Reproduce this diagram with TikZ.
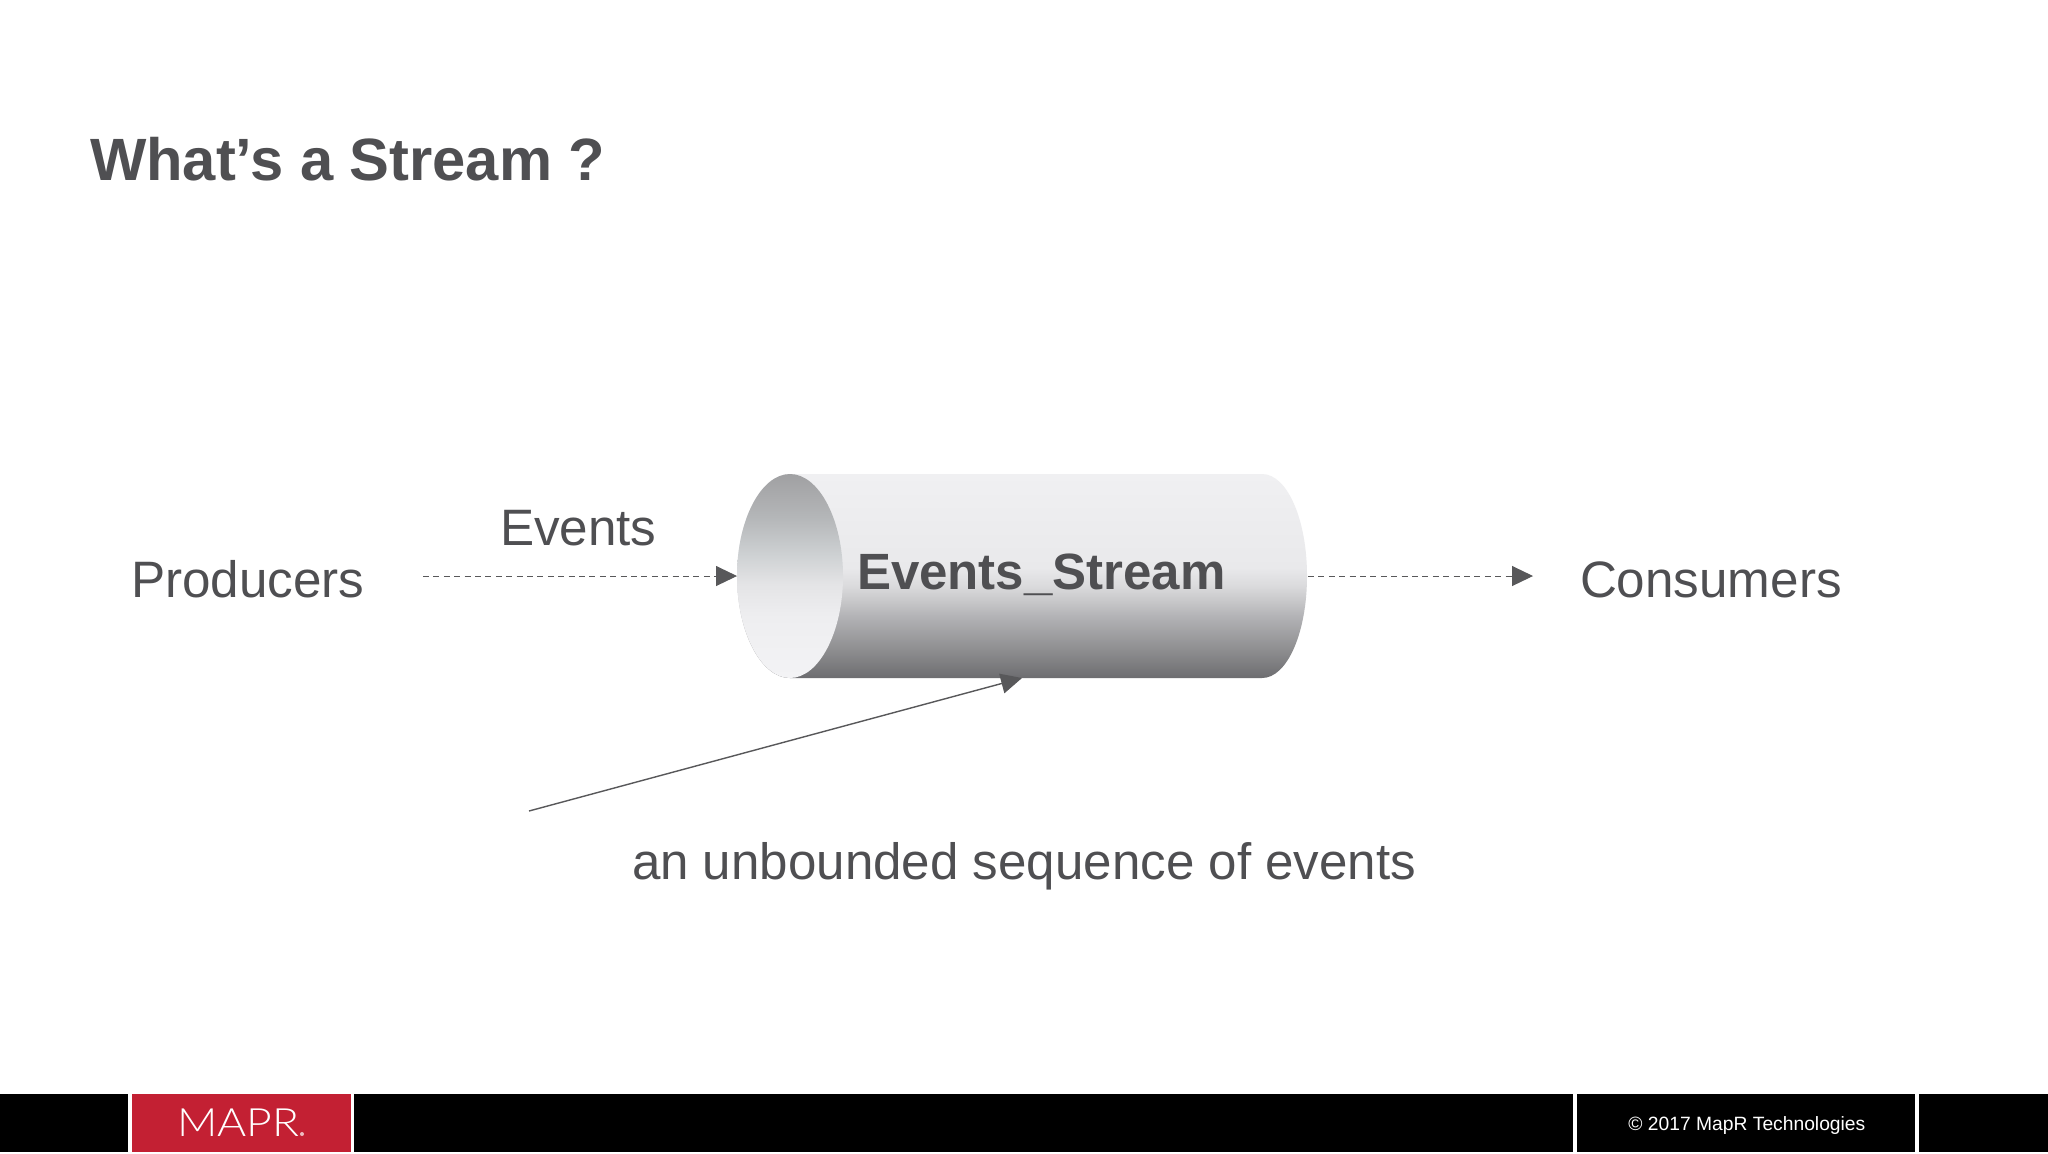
\documentclass[tikz,border=0pt]{standalone}
\usepackage{fontspec}
\setmainfont{Liberation Sans}
\newfontfamily\logofont{Lato Light}
\usetikzlibrary{arrows.meta}
\definecolor{ink}{HTML}{4F4F52}
\definecolor{linegray}{HTML}{58585A}
\definecolor{maprred}{HTML}{C32033}
\definecolor{bA}{HTML}{F0F0F2}
\definecolor{bB}{HTML}{E9E9EB}
\definecolor{bBB}{HTML}{DADADC}
\definecolor{bC}{HTML}{C8C8CA}
\definecolor{bD}{HTML}{B2B2B5}
\definecolor{bE}{HTML}{8E8E90}
\definecolor{bF}{HTML}{6D6D70}
\definecolor{eA}{HTML}{A0A0A2}
\definecolor{eB}{HTML}{B4B6B8}
\definecolor{eC}{HTML}{CDD0D2}
\definecolor{eD}{HTML}{E4E4E6}
\definecolor{eE}{HTML}{EEEEF0}
\definecolor{eF}{HTML}{F3F3F5}
\pgfdeclareverticalshading{bodyshade}{100bp}{color(0bp)=(bF); color(25bp)=(bF); color(32bp)=(bE); color(40bp)=(bD); color(44bp)=(bC); color(47.5bp)=(bBB); color(52bp)=(bB); color(75bp)=(bA); color(100bp)=(bA)}
\pgfdeclareverticalshading{mouthshade}{100bp}{color(0bp)=(eF); color(25bp)=(eF); color(40bp)=(eE); color(48bp)=(eD); color(55.5bp)=(eC); color(64.5bp)=(eB); color(75bp)=(eA); color(100bp)=(eA)}
\tikzset{
  lbl/.style={anchor=base west,inner sep=0pt,outer sep=0pt,text=ink},
  flow/.style={draw=linegray,line width=0.5pt,dash pattern=on 3pt off 2.2pt,-{Triangle[length=10.5pt,width=10pt,fill=linegray]}},
  solidflow/.style={draw=linegray,line width=0.7pt,-{Triangle[length=10.5pt,width=10pt,fill=linegray]}},
  bar/.style={fill=black,draw=none},
}
\begin{document}
\begin{tikzpicture}[x=0.5pt,y=-0.5pt]
\useasboundingbox (0,0) rectangle (2048,1153);
\fill[white] (0,0) rectangle (2048,1153);
% footer
\fill[bar] (0,1094) rectangle (128,1152);
\fill[maprred] (132,1094) rectangle (350.5,1152);
\fill[bar] (354,1094) rectangle (1573,1152);
\fill[bar] (1577,1094) rectangle (1915,1152);
\fill[bar] (1919,1094) rectangle (2048,1152);
\node[anchor=base west,inner sep=0pt,text=white,font=\logofont\fontsize{19.5}{21}\selectfont,xscale=1.14] (logo) at (177,1136) {MAPR};
\fill[white!70!maprred] (302,1134) circle (2);
\node[anchor=base west,inner sep=0pt,text=white,font=\fontsize{9.63}{11}\selectfont] (copy) at (1628,1130.5) {© 2017 MapR Technologies};
% title
\node[lbl,font=\fontsize{29.85}{32}\selectfont\bfseries] (title) at (90,180.5) {What’s a Stream ?};
% cylinder
\shade[shading=bodyshade] (790,474) -- (1262,474) .. controls (1287.4,474) and (1307,520) .. (1307,576) .. controls (1307,632) and (1287.4,678) .. (1262,678) -- (790,678) .. controls (761,678) and (737,632) .. (737,576) .. controls (737,520) and (761,474) .. (790,474) -- cycle;
\shade[shading=mouthshade] (790,474) .. controls (761,474) and (737,520) .. (737,576) .. controls (737,632) and (761,678) .. (790,678) .. controls (819,678) and (843,632) .. (843,576) .. controls (843,520) and (819,474) .. (790,474) -- cycle;
\node[lbl,font=\fontsize{25.5}{28}\selectfont\bfseries] (stream) at (857,589) {Events\_Stream};
% labels
\node[lbl,font=\fontsize{25.6}{28}\selectfont] (producers) at (131,597) {Producers};
\node[lbl,font=\fontsize{25.6}{28}\selectfont] (events) at (500,545) {Events};
\node[lbl,font=\fontsize{25.6}{28}\selectfont] (consumers) at (1580,597) {Consumers};
\node[lbl,font=\fontsize{25.55}{28}\selectfont] (seq) at (632,879) {an unbounded sequence of events};
% connectors
\coordinate (pout) at (423,576);
\coordinate (sin) at (737,576);
\coordinate (sout) at (1308,576);
\coordinate (cin) at (1533,576);
\coordinate (sa) at (529,811);
\coordinate (sb) at (1022,678);
\draw[flow] (pout) -- (sin);
\draw[flow] (sout) -- (cin);
\draw[solidflow] (sa) -- (sb);
\end{tikzpicture}
\end{document}
